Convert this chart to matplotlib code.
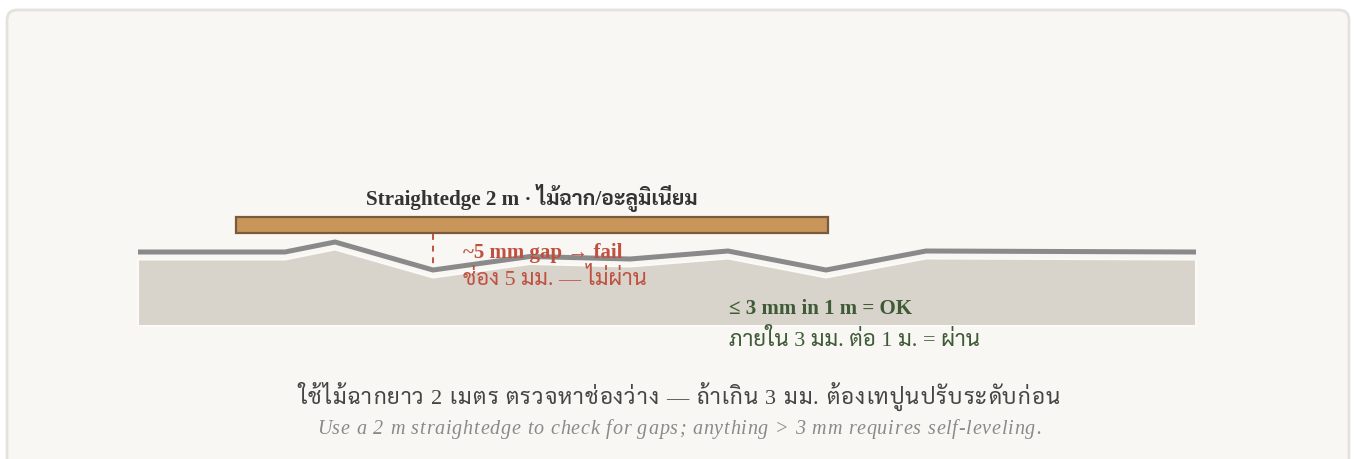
import unicodedata
import matplotlib
matplotlib.use("Agg")
import matplotlib.pyplot as plt
from matplotlib.font_manager import FontProperties, findfont, get_font
from matplotlib.patches import FancyBboxPatch, Rectangle, Polygon

# floor profile (diagram units, y grows downward)
profile_x = [138, 285, 335, 433, 530, 630, 728, 826, 926, 1196]
profile_y = [252, 252, 242, 270, 256.5, 259, 251, 270, 251, 252]
floor_bottom = 326
fill_offset = 7.5

# straightedge
edge_x0, edge_len = 236, 592
edge_top, edge_h = 217, 16
gap_x, gap_y0, gap_y1 = 433, 234, 268

title_txt = "Straightedge 2 m · ไม้ฉาก/อะลูมิเนียม"
fail_en = "~5 mm gap → fail"
fail_th = "ช่อง 5 มม. — ไม่ผ่าน"
ok_en = "≤ 3 mm in 1 m = OK"
ok_th = "ภายใน 3 มม. ต่อ 1 ม. = ผ่าน"
cap_th = "ใช้ไม้ฉากยาว 2 เมตร ตรวจหาช่องว่าง — ถ้าเกิน 3 มม. ต้องเทปูนปรับระดับก่อน"
cap_en = "Use a 2 m straightedge to check for gaps; anything > 3 mm requires self-leveling."

RED = "#c0503f"
GREEN = "#3e5a36"
FAMS = ["Liberation Serif", "Sarabun", "Loma", "DejaVu Sans"]
DPI = 100


def clusters(s):
    out = []
    for ch in s:
        if out and unicodedata.category(ch).startswith("M"):
            out[-1] += ch
        else:
            out.append(ch)
    return out


_cmaps = {}


def advance(ch, size, weight, style):
    # advance width in pixels of one character, using the first family that has it
    for fam in FAMS:
        try:
            path = findfont(FontProperties(family=fam, weight=weight, style=style),
                            fallback_to_default=False)
        except Exception:
            continue
        if path not in _cmaps:
            _cmaps[path] = get_font(path, hinting_factor=1).get_charmap()
        if ord(ch) in _cmaps[path]:
            font = get_font(path, hinting_factor=1)
            font.set_size(size, DPI)
            return font.load_char(ord(ch)).linearHoriAdvance / 65536
    return size * 0.5


def spaced_text(ax, xc, y, s, spacing, **kw):
    # centred text with extra letter spacing (pixels)
    size = kw["fontsize"]
    weight = kw.get("fontweight", "normal")
    style = kw.get("style", "normal")
    parts = clusters(s)
    widths = [advance(p[0], size, weight, style) + spacing for p in parts]
    x = xc - (sum(widths) - spacing) / 2
    for p, w in zip(parts, widths):
        ax.text(x, y, p, ha="left", va="baseline", family=FAMS, **kw)
        x += w


fig = plt.figure(figsize=(13.54, 4.59), dpi=DPI)
fig.patch.set_facecolor("white")
ax = fig.add_axes([0, 0, 1, 1])
ax.set_xlim(0, 1354)
ax.set_ylim(459, 0)
ax.axis("off")

ax.add_patch(FancyBboxPatch((7, 10), 1342, 470, boxstyle="round,pad=0,rounding_size=10",
                            facecolor="#f8f7f3", edgecolor="#e4e2dd", linewidth=2))

# floor fill
fill_pts = [(x, y + fill_offset) for x, y in zip(profile_x, profile_y)]
fill_pts += [(profile_x[-1], floor_bottom), (profile_x[0], floor_bottom)]
ax.add_patch(Polygon(fill_pts, closed=True, facecolor="#d8d3cb", edgecolor="#fbfaf7",
                     linewidth=1.5, joinstyle="miter"))
ax.plot(profile_x, profile_y, color="#8a8a8a", linewidth=3.6, solid_joinstyle="miter",
        solid_capstyle="butt")

# straightedge
ax.add_patch(Rectangle((edge_x0, edge_top), edge_len, edge_h, facecolor="#c8955a",
                       edgecolor="#7a5a3c", linewidth=1.6))
ax.plot([gap_x, gap_x], [gap_y0, gap_y1], color=RED, linewidth=1.4, linestyle=(0, (3, 3)))

ax.text(531.5, 205, title_txt, ha="center", va="baseline", fontsize=15.2, fontweight="bold",
        color="#333333", family=FAMS)
ax.text(463, 258, fail_en, ha="left", va="baseline", fontsize=15, fontweight="bold",
        color=RED, family=FAMS)
ax.text(463, 285, fail_th, ha="left", va="baseline", fontsize=15.8, color=RED, family=FAMS)
ax.text(729, 314, ok_en, ha="left", va="baseline", fontsize=15, fontweight="bold",
        color=GREEN, family=FAMS)
ax.text(729, 346, ok_th, ha="left", va="baseline", fontsize=16, color=GREEN, family=FAMS)

spaced_text(ax, 679, 404, cap_th, 1.05, fontsize=16, color="#444444")
spaced_text(ax, 679, 434, cap_en, 0.85, fontsize=14.5, style="italic", color="#8a8a8a")

fig.savefig("out.png", dpi=DPI, facecolor="white")
